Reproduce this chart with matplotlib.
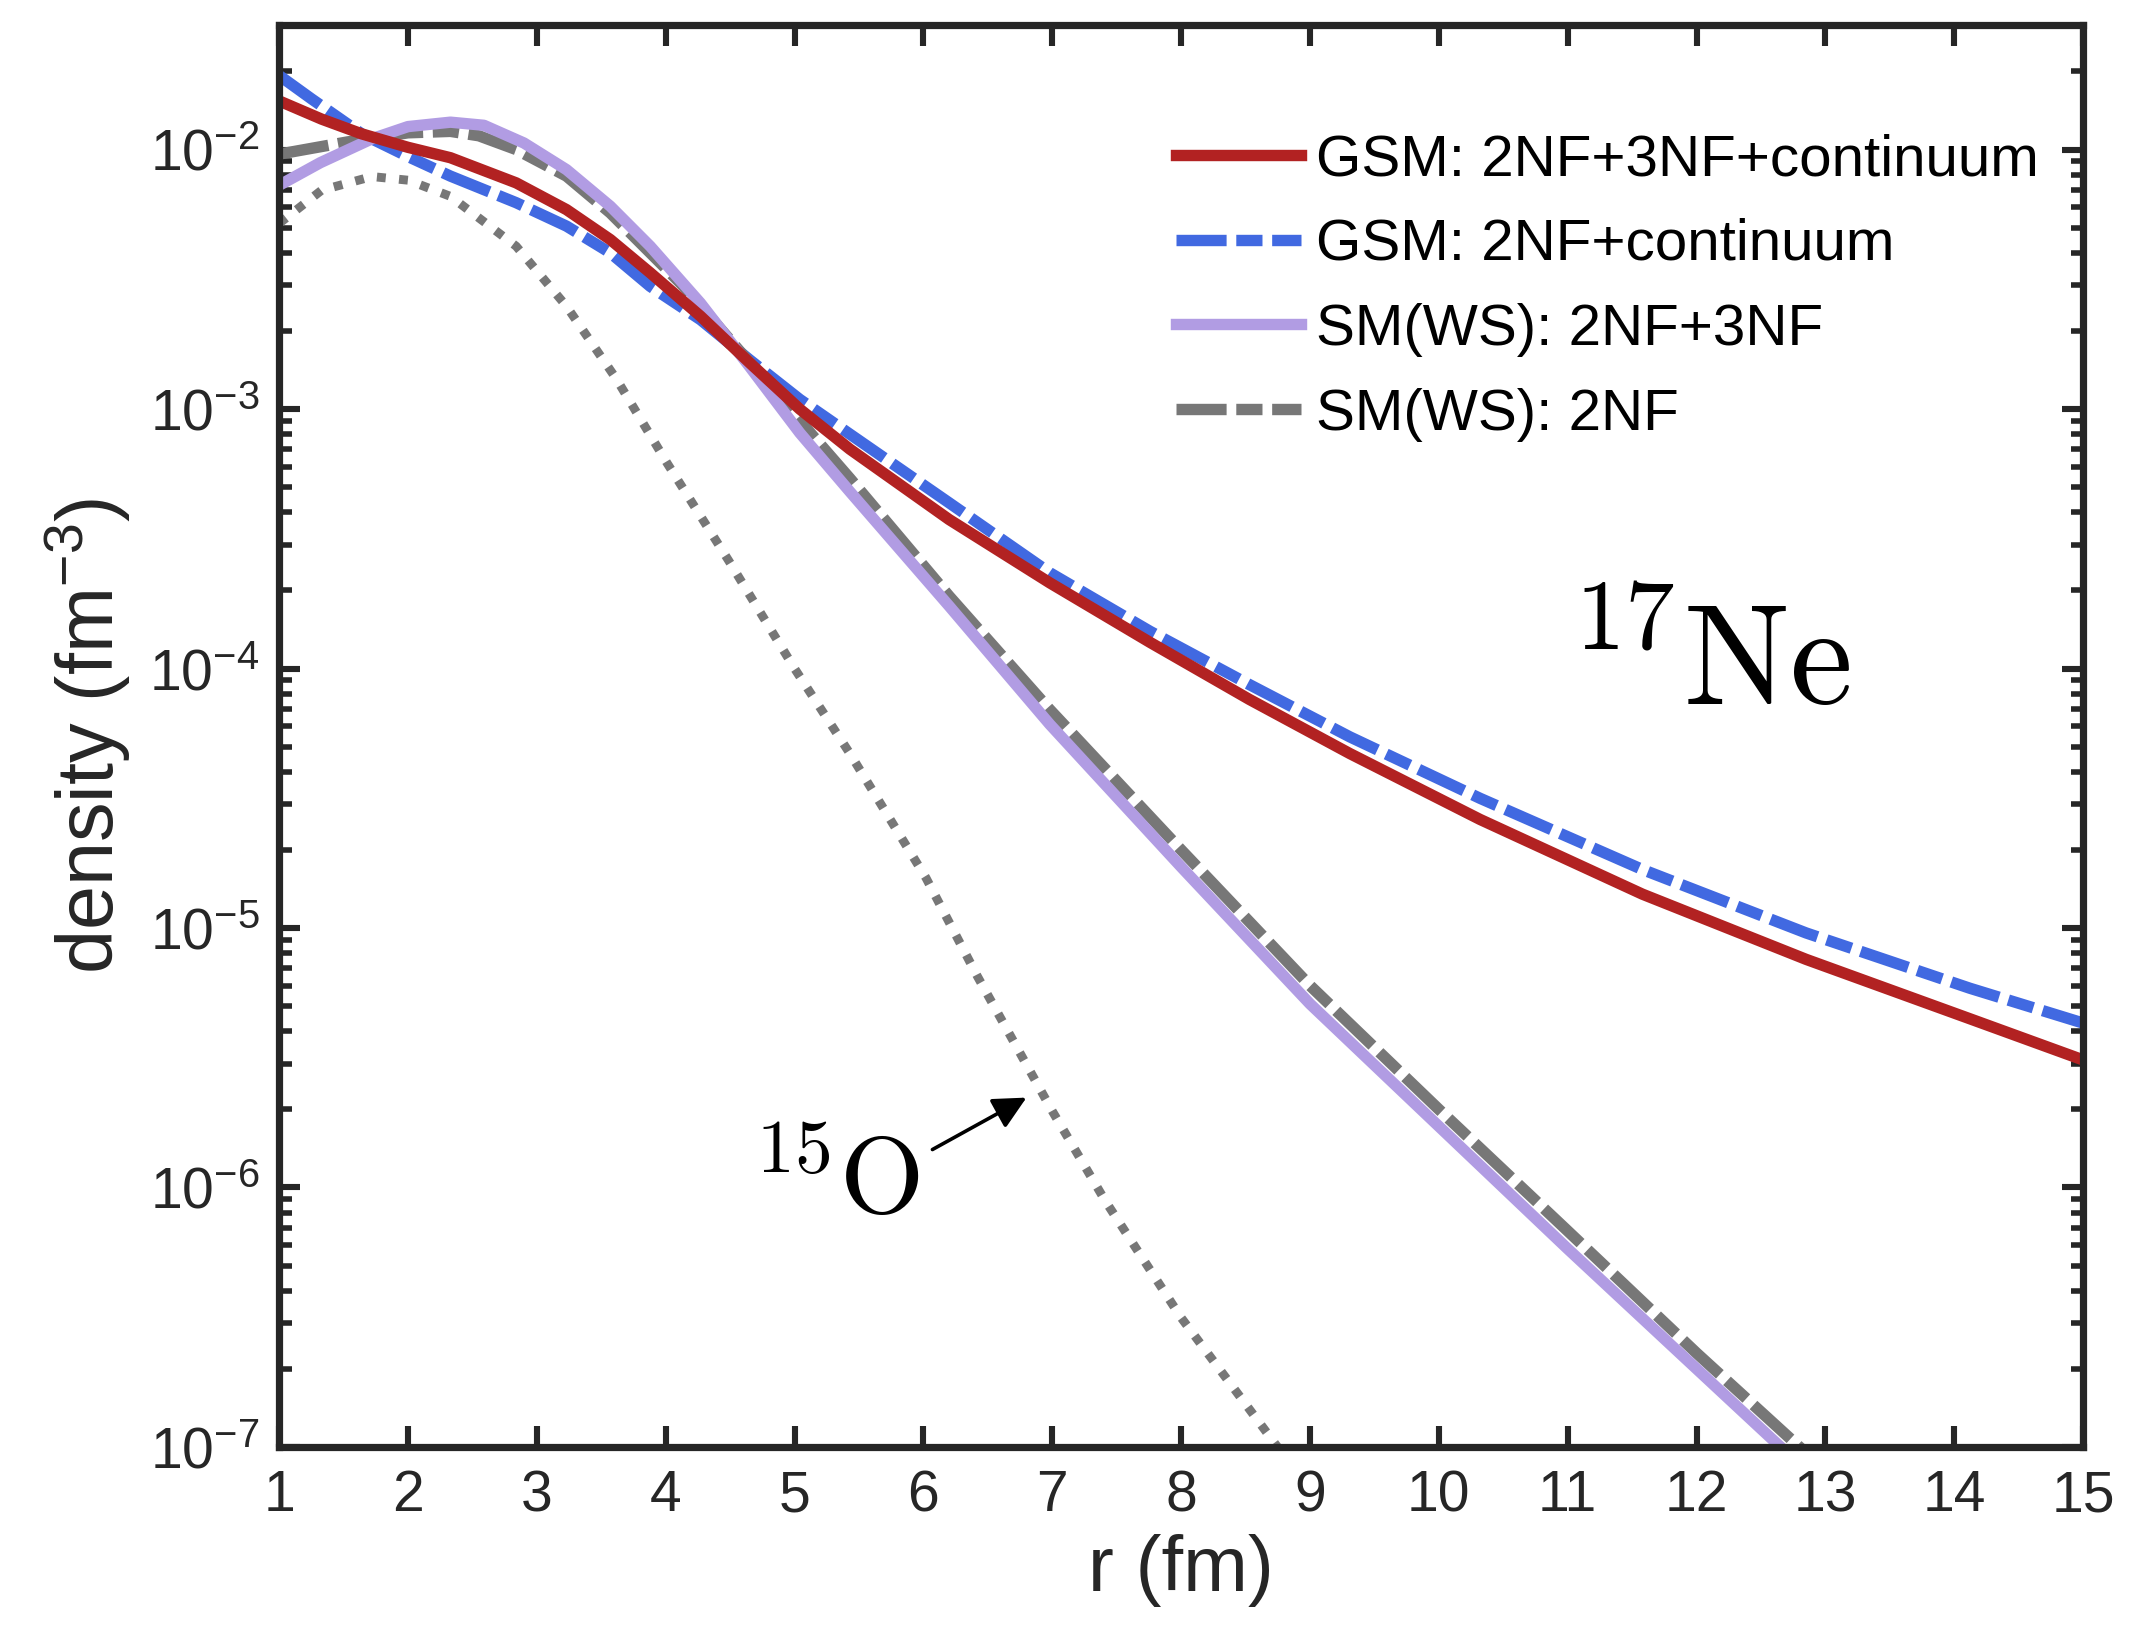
import numpy as np
import matplotlib.pyplot as plt
from matplotlib.ticker import LogLocator, NullFormatter, NullLocator, MultipleLocator

# radial density of 17Ne
r_gsm3 = [1.0, 1.33, 1.64, 2.0, 2.33, 2.84, 3.23, 3.57, 3.88, 4.27, 4.65, 5.04,
          5.43, 6.2, 6.98, 7.76, 8.53, 9.31, 10.32, 11.58, 12.85, 14.12, 15.0]
rho_gsm3 = [0.0154, 0.0131, 0.0115, 0.0102, 0.0093, 0.00744, 0.00587, 0.0045,
            0.00335, 0.00228, 0.00151, 1.0e-3, 7.0e-4, 3.75e-4, 2.14e-4, 1.26e-4,
            7.6e-5, 4.7e-5, 2.62e-5, 1.35e-5, 7.57e-6, 4.47e-6, 3.1e-6]

r_gsm2 = [1.0, 1.25, 1.64, 2.0, 2.33, 2.84, 3.23, 3.57, 3.88, 4.27, 4.65, 5.04,
          5.43, 6.2, 6.98, 7.76, 8.53, 9.31, 10.32, 11.58, 12.85, 14.12, 15.0]
rho_gsm2 = [0.0193, 0.0157, 0.0115, 0.0094, 0.0079, 0.00624, 0.00507, 0.0040,
            0.00297, 0.00221, 0.00155, 1.09e-3, 8.0e-4, 4.35e-4, 2.34e-4, 1.39e-4,
            8.67e-5, 5.45e-5, 3.16e-5, 1.68e-5, 9.57e-6, 5.86e-6, 4.3e-6]

r_sm3 = [1.0, 1.32, 1.72, 2.0, 2.33, 2.59, 2.9, 3.23, 3.57, 3.88, 4.27, 4.65,
         5.04, 5.43, 6.2, 6.98, 8.0, 9.0, 10.0, 11.0, 12.0, 13.0]
rho_sm3 = [0.00728, 0.0089, 0.011, 0.01226, 0.01275, 0.0124, 0.0106, 0.00837,
           0.00605, 0.00424, 0.00256, 0.00146, 8.1e-4, 4.8e-4, 1.74e-4, 6.1e-5,
           1.72e-5, 5.1e-6, 1.72e-6, 5.8e-7, 2.0e-7, 6.9e-8]

r_sm2 = [1.0, 1.53, 2.0, 2.33, 2.55, 2.84, 3.23, 3.57, 4.14, 5.17, 5.43, 6.2,
         6.98, 8.0, 9.0, 10.0, 11.0, 12.0, 13.0]
rho_sm2 = [0.0096, 0.0107, 0.0116, 0.01175, 0.0113, 0.0100, 0.0079, 0.0057,
           0.00297, 7.6e-4, 5.4e-4, 1.9e-4, 6.95e-5, 2.0e-5, 6.0e-6, 2.0e-6,
           6.8e-7, 2.3e-7, 8.1e-8]

r_o15 = [1.0, 1.33, 1.72, 2.0, 2.33, 2.84, 3.23, 3.62, 4.01, 4.49, 5.0, 5.43,
         6.02, 6.42, 7.0, 7.41, 8.0, 8.71, 9.0]
rho_o15 = [0.00519, 0.00697, 0.00787, 0.00762, 0.0066, 0.00424, 0.00249, 0.0013,
           6.2e-4, 2.6e-4, 1.0e-4, 4.7e-5, 1.56e-5, 6.5e-6, 1.97e-6, 8.9e-7,
           3.15e-7, 1.06e-7, 6.8e-8]

labels = ['GSM: 2NF+3NF+continuum', 'GSM: 2NF+continuum',
          'SM(WS): 2NF+3NF', 'SM(WS): 2NF']

plt.rcParams['font.family'] = ['Liberation Sans', 'DejaVu Sans']
plt.rcParams['axes.unicode_minus'] = False

fig = plt.figure(figsize=(10.685, 8.225), dpi=200)
ax = fig.add_axes([0.1306, 0.1204, 0.8442, 0.8644])

lw = 4.1
dashdot = (4.4, 0.85, 2.3, 0.85)   # thick matlab '-.' : long dash, short dash
l_blue, = ax.plot(r_gsm2, rho_gsm2, color='#4169e1', lw=lw, dashes=dashdot, zorder=2.0)
l_gray, = ax.plot(r_sm2, rho_sm2, color='#777777', lw=lw, dashes=dashdot, zorder=2.1)
l_purp, = ax.plot(r_sm3, rho_sm3, color='#b19ce3', lw=lw, zorder=2.2)
l_red, = ax.plot(r_gsm3, rho_gsm3, color='#b22222', lw=lw, zorder=2.3)
ax.plot(r_o15, rho_o15, color='#777777', lw=3.2, dashes=(1.0, 1.5), zorder=1.9)

ax.set_yscale('log')
ax.set_xlim(1, 15)
ax.set_ylim(1e-7, 3.02e-2)

ax.xaxis.set_major_locator(MultipleLocator(1))
ax.xaxis.set_minor_locator(NullLocator())
ax.yaxis.set_major_locator(LogLocator(base=10, numticks=20))
ax.yaxis.set_minor_locator(LogLocator(base=10, subs=np.arange(2, 10), numticks=20))
ax.yaxis.set_minor_formatter(NullFormatter())

ax.tick_params(which='both', direction='in', top=True, right=True,
               color='#262626', labelcolor='#262626', labelsize=20.5)
ax.tick_params(which='major', length=7.5, width=2.2)
ax.tick_params(which='minor', length=4.5, width=2.0)
ax.tick_params(axis='x', pad=8)
ax.tick_params(axis='y', pad=7)
for sp in ax.spines.values():
    sp.set_linewidth(2.6)
    sp.set_color('#262626')

ax.set_xlabel('r (fm)', fontsize=28, color='#262626', labelpad=4)
ax.set_ylabel(r'density (fm$^{\mathdefault{-3}}$)', fontsize=28.5, color='#262626', labelpad=6)

ax.legend([l_red, l_blue, l_purp, l_gray], labels, loc='upper left',
          bbox_to_anchor=(0.497, 0.924), frameon=False, fontsize=21,
          handlelength=2.15, handletextpad=0.25, labelspacing=0.53,
          borderpad=0, borderaxespad=0)

ax.text(12.1, 7.26e-5, r'$^{17}\mathrm{Ne}$', fontsize=51, ha='center',
        va='baseline', math_fontfamily='cm')
ax.text(5.32, 7.87e-7, r'$^{15}\mathrm{O}$', fontsize=39, ha='center',
        va='baseline', math_fontfamily='cm')
ax.annotate('', xy=(6.80, 2.22e-6), xytext=(6.07, 1.40e-6),
            arrowprops=dict(arrowstyle='-|>', lw=1.3, color='k',
                            mutation_scale=25, shrinkA=0, shrinkB=0))

fig.savefig('out.png', dpi=200)
